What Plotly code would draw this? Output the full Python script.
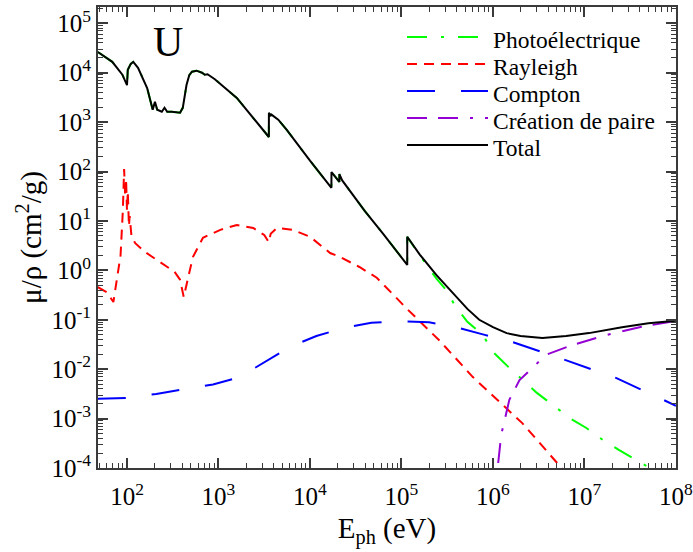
import plotly.graph_objects as go

# ---------------- data (energies in eV, mu/rho in cm^2/g) ----------------
total_E = [48, 69, 89, 100, 102, 110, 117, 132, 166, 191, 202, 214, 240, 257, 275, 309, 380, 407,
           447, 479, 513, 575, 661, 708, 759, 912, 1585, 2512, 3550, 3556, 3650, 3728, 3730, 4300,
           4500, 5600, 10000, 17150, 17170, 20940, 20950, 22500, 28180, 39810, 63100, 95500,
           115590, 115610, 158500, 240000, 398000, 525000, 708000, 1.0e6, 1.41e6, 2.0e6, 3.47e6,
           6.3e6, 1.12e7, 2.57e7, 5.0e7, 1e8]
total_V = [26300, 16600, 9120, 5620, 11500, 15100, 16600, 12600, 4900, 1780, 2570, 1780, 1620, 1950,
           1620, 1620, 1550, 1950, 5620, 8900, 10500, 11000, 10000, 9100, 9300, 7400, 3090, 1070, 500,
           1550, 1380, 1320, 1450, 1200, 1120, 692, 166, 46.8, 97.7, 61.7, 89, 66, 37.2, 15.8, 5.5,
           2.0, 1.29, 4.79, 2.09, 0.81, 0.288, 0.166, 0.100, 0.0708, 0.0537, 0.0468, 0.0427,
           0.0468, 0.0537, 0.0708, 0.0851, 0.0955]

photo_E = [48, 69, 89, 100, 102, 110, 117, 132, 166, 191, 202, 214, 240, 257, 275, 309, 380, 407,
           447, 479, 513, 575, 661, 708, 759, 912, 1585, 2512, 3550, 3556, 3650, 3728, 3730, 4300,
           4500, 5600, 10000, 17150, 17170, 20940, 20950, 22500, 28180, 39810, 63100, 95500,
           115590, 115610, 158500, 240000, 309000, 380000, 525000, 776000, 1.0e6, 1.48e6, 2.09e6,
           3.02e6, 4.47e6, 6.92e6, 1.05e7, 1.58e7, 2.4e7, 3.8e7, 1e8]
photo_V = [26300, 16600, 9120, 5620, 11500, 15100, 16600, 12600, 4900, 1780, 2570, 1780, 1620, 1950,
           1620, 1620, 1550, 1950, 5620, 8900, 10500, 11000, 10000, 9100, 9300, 7400, 3090, 1070, 500,
           1550, 1380, 1320, 1450, 1200, 1120, 692, 166, 46.8, 97.7, 61.7, 89, 66, 37.2, 15.8, 5.5,
           2.0, 1.29, 4.79, 2.0, 0.69, 0.398, 0.20, 0.091, 0.049, 0.0224, 0.011, 0.00603,
           0.00331, 0.00191, 0.00102, 6.46e-4, 3.72e-4, 2.29e-4, 1.38e-4, 5.0e-5]

rayl_E = [48, 60, 71, 79, 85, 90, 93, 95.5, 97.7, 100, 102, 105, 107, 112, 123, 158, 240, 331, 380,
          417, 468, 525, 676, 1047, 1585, 2400, 3160, 3550, 3720, 4365, 6460, 10000, 16600, 21400,
          34700, 53700, 115000, 263000, 603000, 2.09e6, 5.62e6, 1e7]
rayl_V = [0.457, 0.363, 0.229, 0.741, 2.0, 15.8, 112, 31.6, 70.8, 15.8, 39.8, 7.9, 12.6, 4.79, 3.55,
          2.34, 1.41, 0.933, 0.646, 0.288, 0.741, 1.86, 4.57, 6.6, 8.3, 7.2, 5.2, 3.7, 5.5, 7.2, 6.6,
          4.8, 2.24, 1.86, 1.17, 0.71, 0.166, 0.0372, 0.00692, 8.1e-4, 1.0e-4, 3.2e-5]

compt_E = [48, 100, 209, 427, 871, 1700, 3240, 6030, 11750, 22900, 46800, 95500, 200000, 398000,
           794000, 1.62e6, 4.9e6, 2.24e7, 1e8]
compt_V = [0.00251, 0.00263, 0.00316, 0.00398, 0.0049, 0.0069, 0.0141, 0.0282, 0.0468, 0.0676,
           0.0871, 0.0933, 0.0891, 0.0708, 0.0501, 0.0355, 0.0178, 0.0066, 0.00182]

pair_E = [1.05e6, 1.12e6, 1.23e6, 1.51e6, 1.95e6, 3.8e6, 7.4e6, 1.74e7, 4.0e7, 1e8]
pair_V = [3e-5, 1e-4, 4.7e-4, 0.0024, 0.006, 0.0195, 0.0309, 0.049, 0.0708, 0.0955]

legend_names = ["Photoélectrique", "Rayleigh", "Compton", "Création de paire", "Total"]
colors = ["#00ff00", "#ff0000", "#0000ff", "#9400d3", "#000000"]
dashes = ["20px,14px,3px,14px", "10px,7px", "28px,26px", "20px,11px,20px,12px,3px,12px", "solid"]

# tick positions / labels
x_major = [1e2, 1e3, 1e4, 1e5, 1e6, 1e7, 1e8]
x_major_text = ["10<sup>%d</sup>" % k for k in range(2, 9)]
y_major = [10.0 ** k for k in range(-4, 6)]
y_major_text = ["10<sup>%d</sup>" % k for k in range(-4, 6)]
x_minor = [m * 10.0 ** k for k in range(1, 8) for m in range(2, 10)]
y_minor = [m * 10.0 ** k for k in range(-4, 6) for m in range(2, 10)]

X_RANGE = [1.683, 8.0005]
Y_RANGE = [-4, 5.33]

FONT = "Liberation Serif, Times New Roman, serif"
AX = "#3a3a3a"

fig = go.Figure()
series = [(photo_E, photo_V), (rayl_E, rayl_V), (compt_E, compt_V), (pair_E, pair_V), (total_E, total_V)]
for i, ((E, V), name, c, d) in enumerate(zip(series, legend_names, colors, dashes)):
    on_overlay = (i == len(series) - 1)   # total curve drawn on the (identical) overlay axes, on top
    fig.add_trace(go.Scatter(x=E, y=V, mode="lines", name=name, showlegend=False,
                             line=dict(color=c, width=2, dash=d),
                             xaxis="x2" if on_overlay else "x", yaxis="y2" if on_overlay else "y"))

base = dict(type="log", showgrid=False, zeroline=False, automargin=False, tickmode="array",
            ticks="inside", tickcolor=AX)

fig.update_layout(
    width=693, height=552,
    margin=dict(l=98, r=17, t=7, b=84),
    paper_bgcolor="white", plot_bgcolor="white",
    font=dict(family=FONT, color="black"),
    xaxis=dict(base, range=X_RANGE, tickvals=x_major, ticktext=x_major_text,
               showline=True, linecolor=AX, linewidth=2, mirror="ticks",
               ticklen=10, tickwidth=1.5, ticklabelstandoff=5, ticklabeloverflow="allow",
               tickfont=dict(family=FONT, size=25, color="black"),
               title=dict(text="E<sub>ph</sub> (eV)", font=dict(family=FONT, size=29), standoff=9)),
    yaxis=dict(base, range=Y_RANGE, tickvals=y_major, ticktext=y_major_text,
               showline=True, linecolor=AX, linewidth=2, mirror="ticks",
               ticklen=10, tickwidth=1.5, ticklabeloverflow="allow",
               tickfont=dict(family=FONT, size=25, color="black"),
               title=dict(text="μ/ρ (cm<sup>2</sup>/g)", font=dict(family=FONT, size=29), standoff=1)),
    # overlay axes, identical scales, carrying the minor ticks
    xaxis2=dict(base, range=X_RANGE, overlaying="x", anchor="y", side="bottom",
                tickvals=x_minor, ticklen=5, tickwidth=1.2, mirror="ticks", showline=False,
                showticklabels=False),
    yaxis2=dict(base, range=Y_RANGE, overlaying="y", anchor="x", side="left",
                tickvals=y_minor, ticklen=5, tickwidth=1.2, mirror="ticks", showline=False,
                showticklabels=False),
)

# element label
fig.add_annotation(x=0.121, y=0.925, xref="paper", yref="paper", text="U", showarrow=False,
                   font=dict(family=FONT, size=42, color="black"), xanchor="center", yanchor="middle")

# custom legend (long line samples as in the original)
PW, PH = 578.0, 461.0
rows_px = [37, 64, 91, 118, 145]
for name, c, d, ypx in zip(legend_names, colors, dashes, rows_px):
    yp = (468 - ypx) / PH
    fig.add_shape(type="line", xref="paper", yref="paper", x0=(407 - 98) / PW, x1=(488 - 98) / PW,
                  y0=yp, y1=yp, line=dict(color=c, width=2, dash=d))
    fig.add_annotation(x=(491 - 98) / PW, y=(468 - ypx - 3) / PH, xref="paper", yref="paper",
                       text=name, showarrow=False, xanchor="left", yanchor="middle",
                       font=dict(family=FONT, size=23.5, color="black"))

fig.write_html("out.html")
